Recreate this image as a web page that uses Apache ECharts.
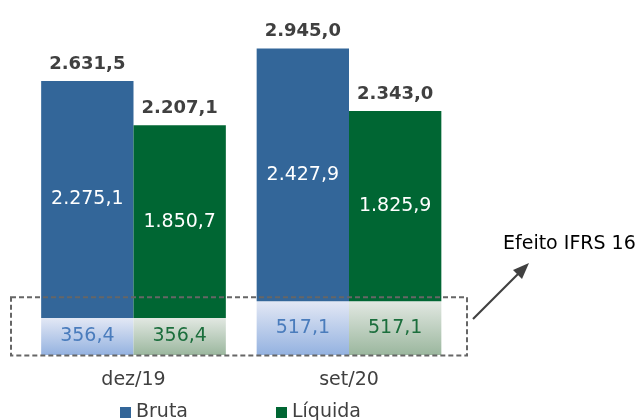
<!DOCTYPE html>
<html><head><meta charset="utf-8">
<script src="https://cdn.jsdelivr.net/npm/echarts@6/dist/echarts.min.js"></script>
<style>html,body{margin:0;padding:0;background:#fff}#c{width:639px;height:420px}</style>
</head><body><div id="c"></div>
<script>
const categories = ['dez/19', 'set/20'];
const brutaIFRS = [356.4, 517.1];
const brutaExIFRS = [2275.1, 2427.9];
const brutaTotal = [2631.5, 2945.0];
const liquidaIFRS = [356.4, 517.1];
const liquidaExIFRS = [1850.7, 1825.9];
const liquidaTotal = [2207.1, 2343.0];
const legendNames = ['Bruta', 'Líquida'];
const annotationText = 'Efeito IFRS 16';

function fmt(v){
  const s = v.toFixed(1).split('.');
  return s[0].replace(/\B(?=(\d{3})+(?!\d))/g, '.') + ',' + s[1];
}
const FONT = 'DejaVu Sans';
const chart = echarts.init(document.getElementById('c'));
const blueGrad = new echarts.graphic.LinearGradient(0,0,0,1,[{offset:0,color:'#e3e8f5'},{offset:1,color:'#94b2e0'}]);
const greenGrad = new echarts.graphic.LinearGradient(0,0,0,1,[{offset:0,color:'#e2e8e2'},{offset:1,color:'#9bb79e'}]);

chart.setOption({
  animation: false,
  grid: {left: 25.75, right: 182.25, top: 21.9, bottom: 65},
  legend: {
    data: legendNames, left: 120, top: 403, itemGap: 88, itemWidth: 11, itemHeight: 11,
    icon: 'rect', padding: 0,
    textStyle: {fontFamily: FONT, fontSize: 19, color: '#404040'}
  },
  xAxis: {
    type: 'category', data: categories,
    axisLine: {show: false}, axisTick: {show: false},
    axisLabel: {fontFamily: FONT, fontSize: 19, color: '#404040', margin: 16}
  },
  yAxis: {type: 'value', min: 0, max: 3200, show: false, splitLine: {show: false}},
  series: [
    {name: 'Bruta IFRS', type: 'bar', stack: 'b', data: brutaIFRS, barGap: '0%', barCategoryGap: '14.3%',
     itemStyle: {color: blueGrad},
     label: {show: true, position: 'inside', fontFamily: FONT, fontSize: 19, color: '#4a7cbc', formatter: p => fmt(p.value)}},
    {name: 'Bruta', type: 'bar', stack: 'b', data: brutaExIFRS,
     itemStyle: {color: '#336699'},
     label: {show: true, position: 'inside', fontFamily: FONT, fontSize: 19, color: '#ffffff', formatter: p => fmt(p.value)}},
    {name: 'Bruta total', type: 'bar', stack: 'b', data: brutaExIFRS.map(() => 0),
     label: {show: true, position: 'top', distance: 8, fontFamily: FONT, fontSize: 18, fontWeight: 'bold', color: '#404040',
             formatter: p => fmt(brutaTotal[p.dataIndex])}},
    {name: 'Líquida IFRS', type: 'bar', stack: 'g', data: liquidaIFRS,
     itemStyle: {color: greenGrad},
     label: {show: true, position: 'inside', fontFamily: FONT, fontSize: 19, color: '#1b6e3c', formatter: p => fmt(p.value)}},
    {name: 'Líquida', type: 'bar', stack: 'g', data: liquidaExIFRS,
     itemStyle: {color: '#006633'},
     label: {show: true, position: 'inside', fontFamily: FONT, fontSize: 19, color: '#ffffff', formatter: p => fmt(p.value)}},
    {name: 'Líquida total', type: 'bar', stack: 'g', data: liquidaExIFRS.map(() => 0),
     label: {show: true, position: 'top', distance: 8, fontFamily: FONT, fontSize: 18, fontWeight: 'bold', color: '#404040',
             formatter: p => fmt(liquidaTotal[p.dataIndex])}}
  ]
});

// dashed box around IFRS segments, derived from axis positions
const lowMax = Math.max(...brutaIFRS, ...liquidaIFRS);
const p0 = chart.convertToPixel({gridIndex: 0}, [0, 0]);
const p1 = chart.convertToPixel({gridIndex: 0}, [1, lowMax]);
const x0 = p0[0] - 122.5, x1 = p1[0] + 118, yTop = p1[1] - 4, yBot = p0[1] + 0.5;
chart.setOption({
  graphic: [
    {type: 'rect', shape: {x: x0, y: yTop, width: x1 - x0, height: yBot - yTop}, z: 100,
     style: {fill: 'none', stroke: '#666666', lineWidth: 2, lineDash: [5, 3]}},
    {type: 'line', shape: {x1: 473, y1: 319, x2: 523, y2: 269}, z: 100,
     style: {stroke: '#404040', lineWidth: 2.2}},
    {type: 'polygon', shape: {points: [[529, 263], [513, 270], [522, 279]]}, z: 100,
     style: {fill: '#404040'}},
    {type: 'text', x: 503, y: 244, z: 100,
     style: {text: annotationText, fontFamily: FONT, fontSize: 19, fill: '#000000', textVerticalAlign: 'middle', verticalAlign: 'middle'}}
  ]
});
</script></body></html>
